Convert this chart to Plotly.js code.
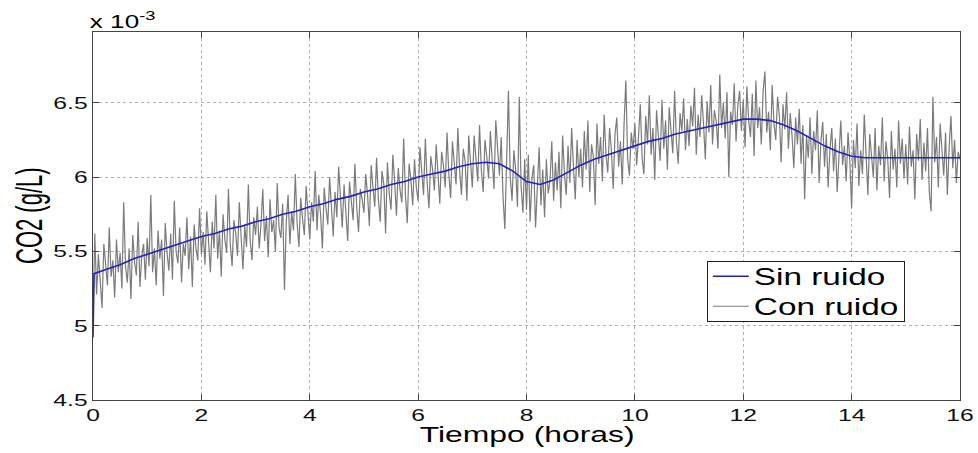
<!DOCTYPE html>
<html>
<head>
<meta charset="utf-8">
<script src="https://cdn.plot.ly/plotly-3.0.1.min.js"></script>
<style>
  html, body { margin: 0; padding: 0; background: #fff; }
  #chart { width: 978px; height: 453px; }
</style>
</head>
<body>
<div id="chart"></div>
<script>
// CO2 concentration (x 10^-3 g/L) over a 16 hour run.

// Model output without noise: time (h) and concentration.
const sinRuidoT = [0, 0.02, 0.25, 0.5, 0.75, 1, 1.25, 1.5, 1.75, 2, 2.25, 2.5, 2.75, 3, 3.25, 3.5, 3.75,
  4, 4.25, 4.5, 4.75, 5, 5.25, 5.5, 5.75, 6, 6.25, 6.5, 6.75, 7, 7.25, 7.5, 7.75, 8, 8.25, 8.5, 8.75,
  9, 9.25, 9.5, 9.75, 10, 10.25, 10.5, 10.75, 11, 11.25, 11.5, 11.75, 12, 12.25, 12.5, 12.75, 13,
  13.25, 13.5, 13.75, 14, 14.25, 14.5, 14.75, 15, 15.25, 15.5, 15.75, 16];
const sinRuidoY = [4.92, 5.35, 5.38, 5.41, 5.45, 5.48, 5.51, 5.54, 5.57, 5.60, 5.62, 5.65, 5.67, 5.70, 5.72, 5.75, 5.77,
  5.80, 5.82, 5.85, 5.87, 5.90, 5.92, 5.95, 5.97, 6.00, 6.02, 6.04, 6.07, 6.09, 6.10, 6.09, 6.04, 5.97, 5.95, 5.98, 6.03,
  6.08, 6.12, 6.15, 6.18, 6.21, 6.24, 6.26, 6.29, 6.31, 6.33, 6.35, 6.37, 6.39, 6.39, 6.38, 6.35, 6.31,
  6.26, 6.21, 6.17, 6.14, 6.13, 6.13, 6.13, 6.13, 6.13, 6.13, 6.13, 6.13];

// Measured (noisy) concentration, one sample every 2 minutes.
const pasoHoras = 2 / 60;
const conRuidoY = [
  5.05, 5.62, 5.21, 5.48, 5.30, 5.12, 5.55, 5.38, 5.27, 5.66, 5.33, 5.44, 5.19, 5.58, 5.36, 5.49, 5.25, 5.83, 5.40, 5.29, 5.52, 5.18, 5.61, 5.43, 5.34, 5.70, 5.26, 5.47, 5.55, 5.31,
  5.59, 5.40, 5.88, 5.36, 5.52, 5.27, 5.64, 5.45, 5.58, 5.20, 5.69, 5.49, 5.37, 5.62, 5.31, 5.84, 5.50, 5.42, 5.66, 5.29, 5.55, 5.47, 5.73, 5.38, 5.60, 5.26, 5.68, 5.52, 5.44, 5.79,
  5.48, 5.63, 5.41, 5.77, 5.56, 5.36, 5.70, 5.52, 5.88, 5.45, 5.64, 5.33, 5.75, 5.58, 5.49, 5.92, 5.55, 5.40, 5.71, 5.62, 5.47, 5.83, 5.60, 5.38, 5.67, 5.53, 5.95, 5.58, 5.44, 5.73,
  5.61, 5.80, 5.52, 5.68, 5.92, 5.57, 5.74, 5.46, 5.85, 5.63, 5.71, 5.50, 5.96, 5.66, 5.59, 5.82, 5.24, 5.70, 5.88, 5.55, 5.77, 5.64, 6.02, 5.69, 5.53, 5.86, 5.72, 5.61, 5.94, 5.75,
  5.58, 5.83, 5.70, 6.04, 5.64, 5.88, 5.75, 5.52, 5.93, 5.79, 5.68, 6.00, 5.81, 5.60, 5.90, 5.73, 6.07, 5.84, 5.66, 5.95, 5.78, 5.57, 5.97, 5.86, 5.71, 6.09, 5.80, 5.63, 5.92, 5.85,
  5.76, 6.02, 5.88, 5.67, 6.08, 5.93, 5.80, 6.13, 5.85, 5.70, 6.04, 5.95, 5.62, 6.10, 5.89, 5.78, 6.15, 5.97, 5.74, 6.06, 5.91, 5.83, 6.26, 5.87, 5.69, 6.09, 5.98, 5.81, 6.12, 5.93,
  5.84, 6.20, 6.03, 5.88, 6.26, 5.96, 5.79, 6.14, 6.05, 5.91, 6.22, 6.00, 5.82, 6.17, 6.08, 5.93, 6.30, 6.02, 5.86, 6.24, 6.10, 5.95, 6.33, 6.04, 5.88, 6.19, 6.11, 5.84, 6.28, 6.06,
  5.93, 6.28, 6.12, 5.97, 6.35, 6.05, 5.90, 6.25, 6.14, 5.99, 6.31, 6.08, 5.92, 6.38, 6.16, 6.01, 6.27, 5.87, 5.65, 6.22, 6.58, 6.00, 5.84, 6.18, 6.05, 5.80, 6.54, 5.94, 5.76, 6.12,
  5.78, 6.15, 5.70, 5.99, 6.08, 5.66, 5.92, 6.20, 5.81, 6.05, 5.73, 6.12, 5.89, 5.97, 6.24, 5.84, 6.10, 5.91, 6.17, 5.79, 6.28, 6.02, 5.88, 6.21, 5.96, 6.33, 6.07, 5.85, 6.25, 6.00,
  6.19, 5.93, 6.31, 6.05, 6.38, 5.90, 6.22, 6.14, 5.81, 6.36, 6.09, 6.27, 5.97, 6.42, 6.15, 6.03, 6.33, 6.18, 5.92, 6.29, 6.40, 6.07, 6.24, 5.95, 6.35, 6.65, 6.12, 6.01, 6.30, 6.19,
  6.36, 6.08, 6.27, 6.49, 6.13, 6.02, 6.41, 6.22, 6.55, 6.15, 6.33, 5.98, 6.45, 6.26, 6.11, 6.52, 6.19, 6.38, 6.05, 6.47, 6.29, 6.16, 6.58, 6.24, 6.09, 6.43, 6.31, 6.53, 6.18, 6.39,
  6.21, 6.48, 6.34, 6.60, 6.15, 6.42, 6.27, 6.55, 6.36, 6.12, 6.51, 6.30, 6.62, 6.22, 6.45, 6.38, 6.19, 6.69, 6.33, 6.50, 6.26, 6.57, 6.00, 6.44, 6.35, 6.63, 6.24, 6.48, 6.58, 6.31,
  6.52, 6.20, 6.61, 6.38, 6.27, 6.56, 6.14, 6.65, 6.33, 6.47, 6.22, 6.58, 6.71, 6.30, 6.44, 6.18, 6.62, 6.36, 6.25, 6.54, 6.41, 6.10, 6.49, 6.32, 6.57, 6.19, 6.43, 6.28, 6.06, 6.40,
  6.22, 6.46, 6.09, 6.35, 5.85, 6.28, 6.13, 6.40, 6.02, 6.31, 6.18, 6.45, 5.96, 6.24, 6.37, 6.07, 6.29, 5.93, 6.19, 6.33, 6.04, 6.26, 5.90, 6.15, 6.38, 6.08, 6.21, 5.97, 6.30, 6.11,
  5.79, 6.25, 6.06, 6.36, 5.94, 6.18, 6.02, 6.42, 6.10, 5.88, 6.29, 6.15, 6.00, 6.33, 5.91, 6.21, 6.08, 6.40, 5.97, 6.24, 6.12, 5.86, 6.31, 6.05, 6.19, 5.93, 6.38, 6.09, 6.26, 5.99,
  6.22, 5.95, 6.34, 6.07, 6.18, 5.85, 6.29, 6.11, 6.39, 5.98, 6.23, 6.04, 6.33, 5.90, 5.77, 6.54, 6.10, 6.27, 5.93, 6.36, 6.14, 6.01, 6.30, 5.88, 6.20, 6.41, 6.06, 6.25, 5.96, 6.17,
  6.12
];
const conRuidoT = conRuidoY.map((_, i) => i * pasoHoras);

// Axis ticks
const xTicks = [0, 2, 4, 6, 8, 10, 12, 14, 16];
const yTicks = [4.5, 5, 5.5, 6, 6.5];
const yTickText = ['4.5', '5', '5.5', '6', '6.5'];

const FONT = 'Liberation Sans, Arial, Helvetica, sans-serif';
// Wide lettering: labels are drawn with this horizontal stretch
// (the rotated y title gets a slightly stronger one).
const ESTIRAMIENTO = 1.45;
const ESTIRAMIENTO_GIRADO = 1.65;
// Padding so the legend box leaves room for the stretched names.
const RELLENO = '\u00a0'.repeat(7);
// Legend box: height and row spacing (px).
const LEYENDA_ALTO = 60;
const LEYENDA_FILA = 30;

const traces = [
  {
    x: conRuidoT, y: conRuidoY, type: 'scatter', mode: 'lines', name: 'Con ruido' + RELLENO,
    line: { color: '#7b7b7b', width: 1.2 }
  },
  {
    x: sinRuidoT, y: sinRuidoY, type: 'scatter', mode: 'lines', name: 'Sin ruido' + RELLENO,
    line: { color: '#2222c4', width: 1.6 }
  }
];

const axisCommon = {
  showline: true, mirror: 'ticks', linecolor: '#444', linewidth: 1,
  ticks: 'inside', ticklen: 6, tickcolor: '#444', tickwidth: 1,
  showgrid: true, gridcolor: '#b2b2b2', griddash: 'dot', gridwidth: 1,
  zeroline: false, tickfont: { family: FONT, size: 17, color: '#111' }
};

const layout = {
  width: 978, height: 453,
  margin: { l: 93, r: 18, t: 32, b: 53 },
  paper_bgcolor: '#ffffff', plot_bgcolor: '#ffffff',
  showlegend: true,
  legend: {
    x: 0.708, y: 0.377, xanchor: 'left', yanchor: 'top',
    traceorder: 'reversed',
    bgcolor: '#ffffff', bordercolor: '#222', borderwidth: 1,
    font: { family: FONT, size: 23, color: '#000' },
    itemwidth: 36, tracegroupgap: 0
  },
  xaxis: Object.assign({}, axisCommon, {
    range: [0, 16], tickvals: xTicks, ticktext: xTicks.map(String),
    ticklabelstandoff: 0
  }),
  yaxis: Object.assign({}, axisCommon, {
    range: [4.5, 6.976], tickvals: yTicks, ticktext: yTickText,
    ticklabelstandoff: 1
  }),
  annotations: [
    {
      text: 'Tiempo (horas)', xref: 'paper', yref: 'paper',
      x: 0.5, y: -0.094, xanchor: 'center', yanchor: 'middle',
      showarrow: false, font: { family: FONT, size: 22, color: '#000' }
    },
    {
      text: 'CO2 (g/L)', xref: 'paper', yref: 'paper',
      x: 0, y: 0.5, xanchor: 'center', yanchor: 'middle', xshift: -64,
      textangle: -90, showarrow: false,
      font: { family: FONT, size: 22, color: '#000' }
    },
    {
      text: 'x 10<sup>-3</sup>', xref: 'paper', yref: 'paper',
      x: (122 - 93) / 867, y: 1, xanchor: 'center', yanchor: 'bottom', yshift: -2,
      showarrow: false, font: { family: FONT, size: 18, color: '#000' }
    }
  ]
};

// Stretch each label horizontally (in page space) about its anchor point.
function estirarTextos(gd, k, kGirado) {
  const textos = gd.querySelectorAll('.xtick text, .ytick text, .annotation-text, .legendtext');
  textos.forEach(t => {
    const svg = t.ownerSVGElement;
    const sr = svg.getBoundingClientRect();
    const r = t.getBoundingClientRect();
    const full = t.getCTM();
    const parent = t.parentNode.getCTM();
    if (!full || !parent) return;
    const girado = Math.abs(full.b) > 0.5;
    const anchor = t.getAttribute('text-anchor') || 'start';
    let px;
    if (girado || anchor === 'middle') px = (r.left + r.right) / 2 - sr.left;
    else if (anchor === 'end') px = r.right - sr.left;
    else px = r.left - sr.left;
    const f = girado ? kGirado : k;
    const S = svg.createSVGMatrix().translate(px, 0).scaleNonUniform(f, 1).translate(-px, 0);
    const local = parent.inverse().multiply(S).multiply(full);
    t.transform.baseVal.initialize(svg.createSVGTransformFromMatrix(local));
  });
}

// Tighten the legend rows to a fixed spacing and shrink its box to match.
function ajustarLeyenda(gd, alto, fila) {
  const leg = gd.querySelector('.legend');
  if (!leg) return;
  const bg = leg.querySelector('rect.bg');
  if (bg) bg.setAttribute('height', alto);
  const scroll = leg.querySelector('.scrollbox');
  if (scroll) {
    const cp = scroll.getAttribute('clip-path');
    const m = cp && cp.match(/#([^)'"]+)/);
    if (m) {
      const r = document.getElementById(m[1]);
      const rect = r && r.querySelector('rect');
      if (rect) rect.setAttribute('height', alto);
    }
  }
  const filas = leg.querySelectorAll('.traces');
  const margen = (alto - fila * filas.length) / 2;
  filas.forEach((g, i) => {
    const tr = g.getAttribute('transform') || '';
    const mx = tr.match(/translate\(\s*([-\d.]+)/);
    const x = mx ? parseFloat(mx[1]) : 1;
    g.setAttribute('transform', 'translate(' + x + ',' + (margen + fila * (i + 0.5)) + ')');
  });
}

Plotly.newPlot('chart', traces, layout, { displayModeBar: false, staticPlot: true })
  .then(gd => {
    estirarTextos(gd, ESTIRAMIENTO, ESTIRAMIENTO_GIRADO);
    ajustarLeyenda(gd, LEYENDA_ALTO, LEYENDA_FILA);
  });
</script>
</body>
</html>
